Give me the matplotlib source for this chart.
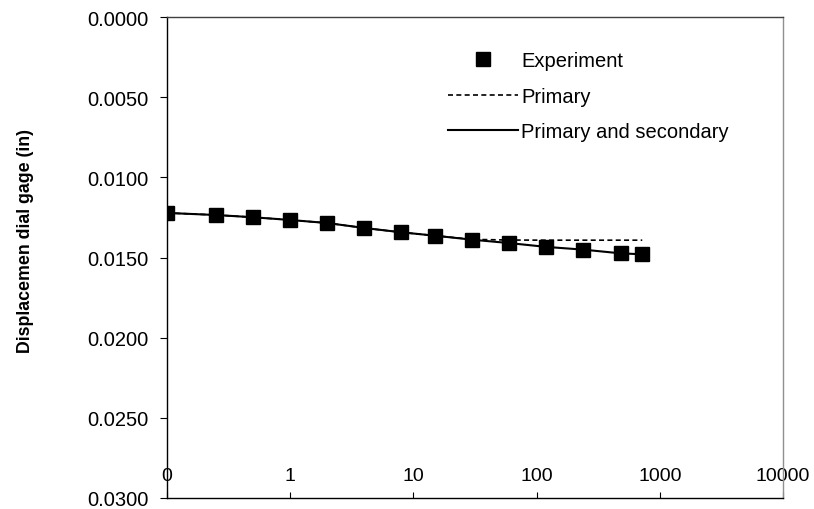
import matplotlib.pyplot as plt
from matplotlib.ticker import FixedLocator, FuncFormatter

plt.rcParams["font.family"] = ["Liberation Sans", "DejaVu Sans"]
plt.rcParams["font.size"] = 14.5

# elapsed time (min) and dial gage readings (in)
time_min = [0.1, 0.25, 0.5, 1, 2, 4, 8, 15, 30, 60, 120, 240, 480, 720]
experiment = [0.01222, 0.01235, 0.01249, 0.01266, 0.01285, 0.01316, 0.01343,
              0.01364, 0.01389, 0.01410, 0.01434, 0.01451, 0.01474, 0.01480]
primary = [0.01222, 0.01235, 0.01249, 0.01266, 0.01285, 0.01316, 0.01343,
           0.01364, 0.01387, 0.01391, 0.01392, 0.01392, 0.01392, 0.01392]
primary_secondary = [0.01222, 0.01235, 0.01249, 0.01266, 0.01285, 0.01316, 0.01343,
                     0.01364, 0.01389, 0.01410, 0.01434, 0.01451, 0.01474, 0.01480]

x_ticks = [0.1, 1, 10, 100, 1000, 10000]
y_ticks = [0.0, 0.005, 0.010, 0.015, 0.020, 0.025, 0.030]

fig = plt.figure(figsize=(8.14, 5.10), dpi=100)
ax = fig.add_axes([167 / 814, 1 - 499 / 510, 616 / 814, 481 / 510])

ax.plot(time_min, primary, "k--", lw=1.2, dashes=(3, 2), label="Primary")
ax.plot(time_min, primary_secondary, "k-", lw=1.5, label="Primary and secondary")
ax.plot(time_min, experiment, "ks", ms=9.5, ls="none", label="Experiment")

ax.set_xscale("log")
ax.set_xlim(0.1, 10000)
ax.set_ylim(0.030, 0.0)

ax.xaxis.set_major_locator(FixedLocator(x_ticks))
ax.xaxis.set_minor_locator(FixedLocator([]))
ax.xaxis.set_major_formatter(FuncFormatter(lambda v, p: f"{v:.0f}"))
ax.tick_params(axis="x", direction="in", length=4.3, pad=-22, labelsize=14)

ax.set_yticks(y_ticks)
ax.yaxis.set_major_formatter(FuncFormatter(lambda v, p: f"{v:.4f}"))
ax.tick_params(axis="y", direction="out", length=5, pad=8.5)

ax.spines["top"].set_color("#404040")
ax.spines["right"].set_color("#909090")
for s in ax.spines.values():
    s.set_linewidth(1.0)

ax.set_ylabel("Displacemen dial gage (in)", fontweight="bold", fontsize=12.8, va="center")
ax.yaxis.set_label_coords(-0.2305, 0.536)

handles, labels = ax.get_legend_handles_labels()
order = [2, 0, 1]
ax.legend([handles[i] for i in order], [labels[i] for i in order],
          loc="upper left", bbox_to_anchor=(0.426, 0.967), frameon=False,
          handlelength=3.5, handletextpad=0.15, labelspacing=0.83)

fig.savefig("out.png", dpi=100)
